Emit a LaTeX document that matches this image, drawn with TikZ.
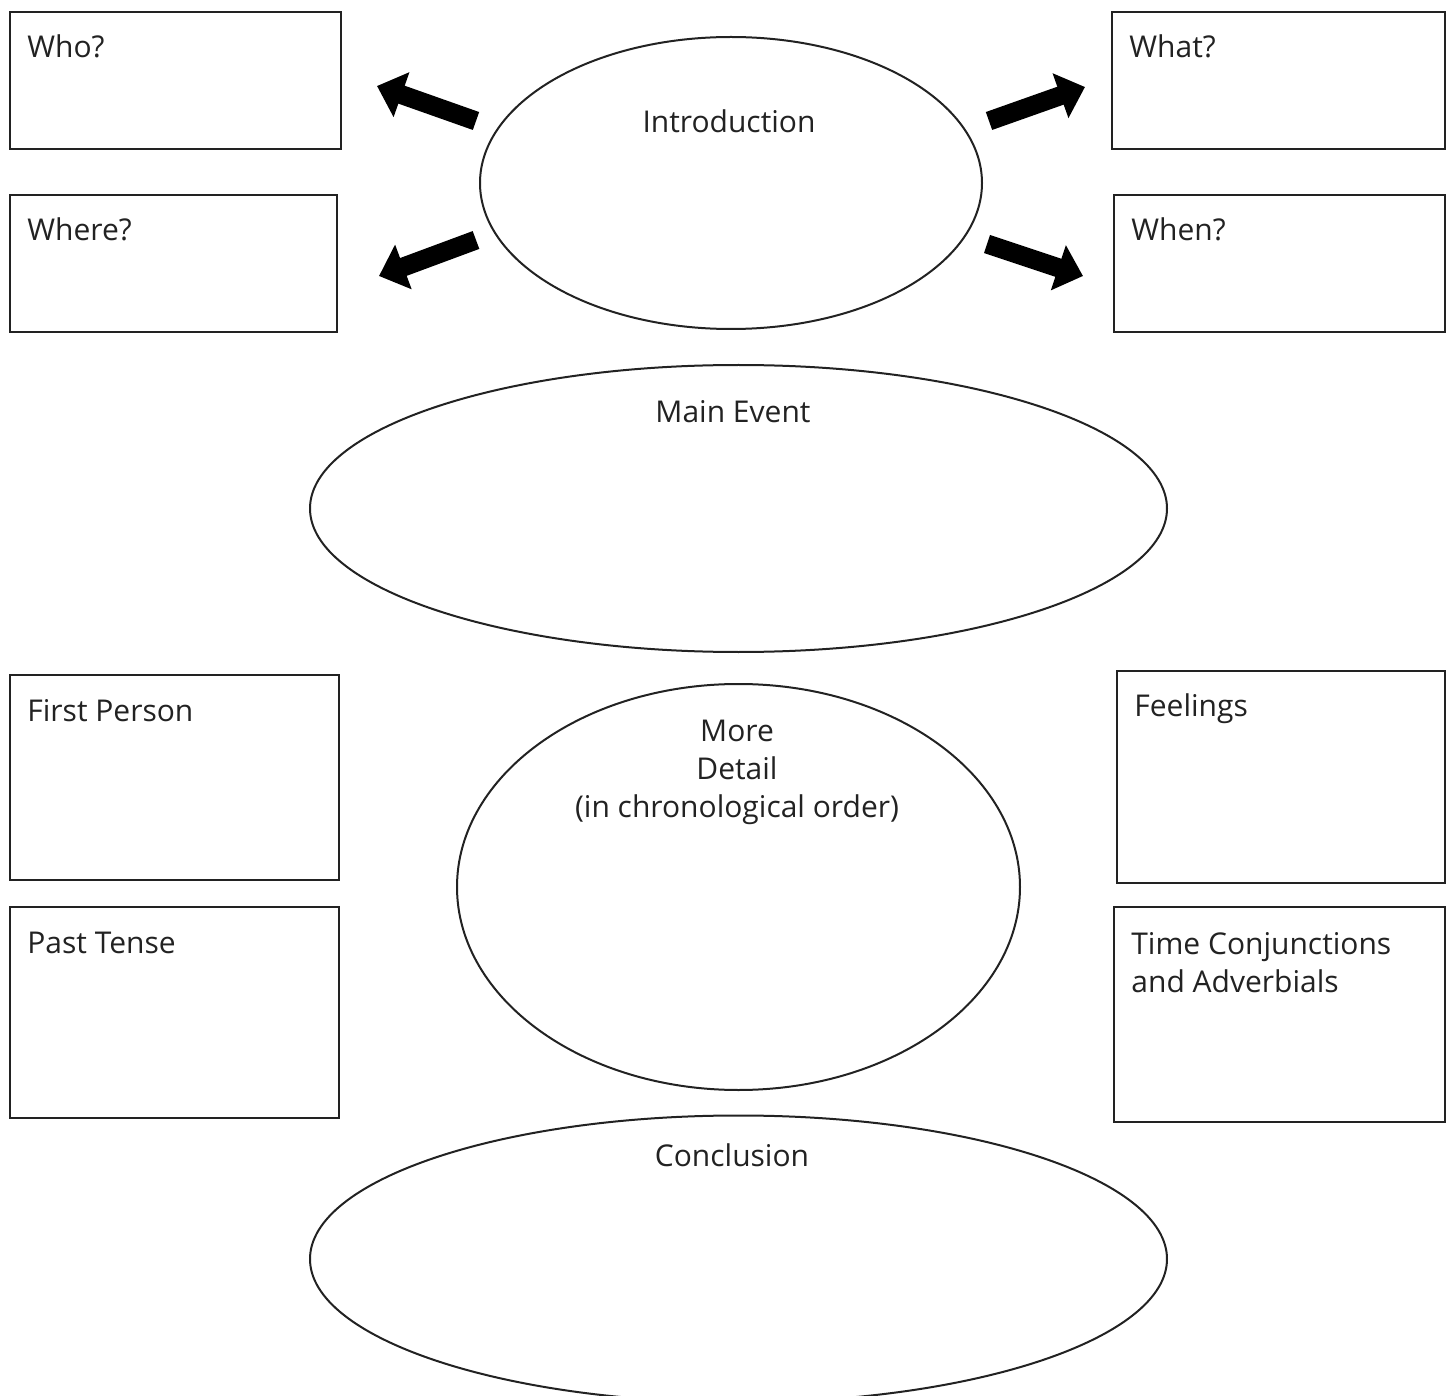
\documentclass[tikz,border=0pt]{standalone}
\usepackage{fontspec}
\setmainfont{Open Sans}
\usetikzlibrary{shapes.geometric,arrows.meta}
\definecolor{lnGray}{HTML}{222222}

\begin{document}
\begin{tikzpicture}[
  x=0.5pt, y=-0.5pt, font=\fontsize{15}{19}\selectfont,
  box/.style    ={draw=lnGray, line width=1pt, anchor=north west, inner sep=0pt},
  oval/.style   ={draw=lnGray, line width=1pt, ellipse, inner sep=0pt},
  lbl/.style    ={anchor=base west, inner sep=0pt, text=lnGray},
  ctr/.style    ={anchor=base, inner sep=0pt, text=lnGray, align=center},
  fat/.style    ={line width=9.5pt, -{Triangle[length=13pt, width=23pt]}}]
  \useasboundingbox (0,0) rectangle (1453,1396);
  \clip (0,0) rectangle (1453,1396);
  % boxes
  \node[box, minimum width=165.5pt, minimum height=68.5pt] (who)   at (9,11)    {};
  \node[box, minimum width=163.5pt, minimum height=68.5pt] (where) at (9,194)   {};
  \node[box, minimum width=166.5pt, minimum height=68.5pt] (what)  at (1111,11) {};
  \node[box, minimum width=165.5pt, minimum height=68.5pt] (when)  at (1113,194){};
  \node[box, minimum width=164.5pt, minimum height=102.5pt] (first) at (9,674)  {};
  \node[box, minimum width=164.5pt, minimum height=105.5pt] (past)  at (9,906)  {};
  \node[box, minimum width=164pt,   minimum height=106pt]   (feel)  at (1116,670){};
  \node[box, minimum width=165.5pt, minimum height=107.5pt] (time)  at (1113,906){};
  \node[lbl] at (27,58)    {Who?};
  \node[lbl] at (27,241)   {Where?};
  \node[lbl] at (1129,58)  {What?};
  \node[lbl] at (1131,241) {When?};
  \node[lbl] at (27,721)   {First Person};
  \node[lbl] at (27,953)   {Past Tense};
  \node[lbl] at (1134,716) {Feelings};
  \node[lbl, align=left] at (1131,992) {Time Conjunctions\\and Adverbials};
  % ovals
  \node[oval, minimum width=251pt,   minimum height=146pt]   (intro)  at (731,183)   {};
  \node[oval, minimum width=428.5pt, minimum height=143.5pt] (event)  at (738.5,508.5) {};
  \node[oval, minimum width=281.5pt, minimum height=203pt]   (detail) at (738.5,887) {};
  \node[oval, minimum width=428.5pt, minimum height=143.5pt] (concl)  at (738.5,1259) {};
  \node[ctr] at (729,133)  {Introduction};
  \node[ctr] at (733,423)  {Main Event};
  \node[ctr] at (737,817)  {More\\Detail\\(in chronological order)};
  \node[ctr] at (732,1166) {Conclusion};
  % arrows
  \coordinate (wA) at (476,121);  \coordinate (wB) at (377,86);
  \coordinate (hA) at (476,240);  \coordinate (hB) at (379,276);
  \coordinate (tA) at (989,121);  \coordinate (tB) at (1085,87);
  \coordinate (nA) at (987,244);  \coordinate (nB) at (1083,276);
  \draw[fat] (wA) -- (wB);
  \draw[fat] (hA) -- (hB);
  \draw[fat] (tA) -- (tB);
  \draw[fat] (nA) -- (nB);
\end{tikzpicture}
\end{document}
